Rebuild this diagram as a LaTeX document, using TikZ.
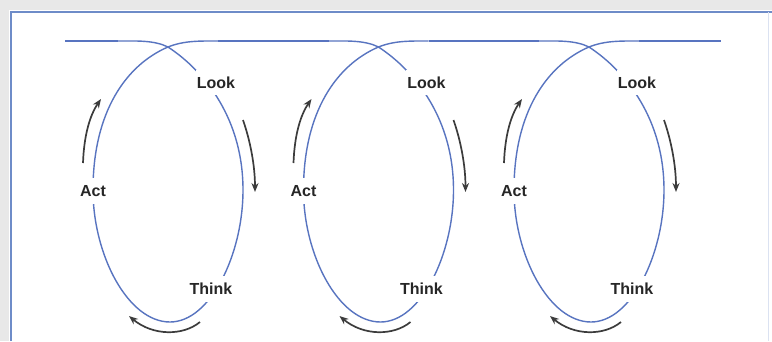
\documentclass[tikz,border=0pt]{standalone}
\usepackage{fontspec}
\setmainfont{Liberation Sans}
\usetikzlibrary{arrows.meta}
\definecolor{loopblue}{RGB}{88,116,192}
\definecolor{frameblue}{RGB}{110,140,200}
\definecolor{arrgray}{RGB}{60,60,60}
\begin{document}
\begin{tikzpicture}[x=1pt,y=-1pt,
  loopline/.style={draw=loopblue,line width=1.4pt},
  lbl/.style={fill=white,font=\fontsize{16}{19}\selectfont\bfseries,text=black!85,inner xsep=1pt,inner ysep=7pt},
  cyc/.style={draw=arrgray,line width=1.7pt,-{Stealth[length=9pt,width=7pt]}}]
\useasboundingbox (0,0) rectangle (772,341);
\fill[gray!18] (0,0) rectangle (772,341);
\fill[white] (9,10) rectangle (772,341);
\draw[frameblue,line width=1.8pt] (11,341) -- (11,12) -- (772,12);
\draw[frameblue!25,line width=1pt] (768,12) -- (768,341);
\coordinate (s0) at (65,41);
\coordinate (e0) at (118,41);
\draw[loopline] (s0) -- (e0);
\coordinate (s1) at (218,41);
\coordinate (e1) at (328.5,41);
\draw[loopline] (s1) -- (e1);
\coordinate (s2) at (428.5,41);
\coordinate (e2) at (539,41);
\draw[loopline] (s2) -- (e2);
\coordinate (s3) at (639,41);
\coordinate (e3) at (721,41);
\draw[loopline] (s3) -- (e3);
\foreach \i/\dx in {1/0,2/210.5,3/421}{
 \begin{scope}[shift={(168+\dx,0)}]
  \draw[loopline] (-50,41) .. controls (-32,41) and (-14,40) .. (0,47)
     .. controls (38,72) and (75,120) .. (75,190)
     .. controls (75,255) and (42,322) .. (2,322)
     .. controls (-40,322) and (-75,255) .. (-75,190)
     .. controls (-75,112) and (-42,65) .. (0,47)
     .. controls (16,40.5) and (32,41) .. (50,41);
  \node[lbl] (look\i) at (48,82.5) {Look};
  \node[lbl] (act\i) at (-75,191) {Act};
  \node[lbl] (think\i) at (43,289) {Think};
  \draw[cyc] (-85,163) .. controls (-84,135) and (-78,115) .. (-67,99);
  \draw[cyc] (75,120) .. controls (82,140) and (87,165) .. (87,192);
  \draw[cyc] (32,322) .. controls (15,336) and (-15,336) .. (-39,316);
 \end{scope}}
\end{tikzpicture}
\end{document}
